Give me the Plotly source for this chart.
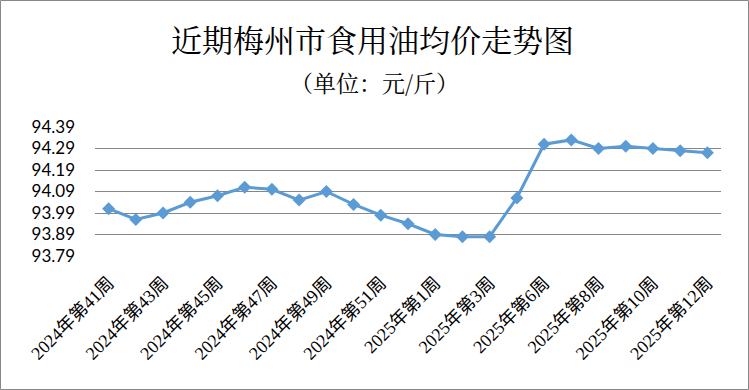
import plotly.graph_objects as go

categories = [
    "2024年第41周", "2024年第42周", "2024年第43周", "2024年第44周", "2024年第45周",
    "2024年第46周", "2024年第47周", "2024年第48周", "2024年第49周", "2024年第50周",
    "2024年第51周", "2024年第52周", "2025年第1周", "2025年第2周", "2025年第3周",
    "2025年第5周", "2025年第6周", "2025年第7周", "2025年第8周", "2025年第9周",
    "2025年第10周", "2025年第11周", "2025年第12周",
]
prices = [
    94.01, 93.96, 93.99, 94.04, 94.07, 94.11, 94.10, 94.05, 94.09, 94.03,
    93.98, 93.94, 93.89, 93.88, 93.88, 94.06, 94.31, 94.33, 94.29, 94.30,
    94.29, 94.28, 94.27,
]
y_ticks = [93.79, 93.89, 93.99, 94.09, 94.19, 94.29, 94.39]
x_ticks = categories[::2]

W, H = 749, 390
L, R, T, B = 95, 28, 127, 134
pw, ph = W - L - R, H - T - B


def px_x(px):
    return (px - L) / pw


def px_y(py):
    return (H - B - py) / ph


fig = go.Figure()
fig.add_trace(go.Scatter(
    x=categories, y=prices, mode="lines+markers",
    line=dict(color="#5B9BD5", width=3),
    marker=dict(symbol="diamond", size=10, color="#5B9BD5"),
    hoverinfo="x+y",
))

cjk_serif = "Noto Serif CJK SC, Noto Sans CJK SC, sans-serif"
fig.update_layout(
    width=W, height=H,
    margin=dict(l=L, r=R, t=T, b=B),
    paper_bgcolor="white", plot_bgcolor="white",
    showlegend=False,
    xaxis=dict(
        type="category", range=[-0.5, len(categories) - 0.5],
        tickmode="array", tickvals=x_ticks, ticktext=x_ticks,
        tickangle=-45, showgrid=False, showline=False, zeroline=False,
        ticks="", ticklabelstandoff=12,
        tickfont=dict(family="Liberation Serif, Noto Sans CJK SC", size=18, color="#000"),
    ),
    yaxis=dict(
        range=[93.79, 94.39], tickmode="array", tickvals=y_ticks,
        ticktext=[f"{v:.2f}" for v in y_ticks],
        showgrid=True, gridcolor="#878787", gridwidth=1,
        zeroline=False, showline=False, ticks="", ticklabelstandoff=19,
        tickfont=dict(family="Lato, sans-serif", size=17, color="#000"),
    ),
    annotations=[
        dict(text="近期梅州市食用油均价走势图", xref="paper", yref="paper",
             x=px_x(372), y=px_y(39), xanchor="center", yanchor="middle",
             showarrow=False, font=dict(family=cjk_serif, size=31, color="#000")),
        dict(text="（单位：元/斤）", xref="paper", yref="paper",
             x=px_x(374), y=px_y(82), xanchor="center", yanchor="middle",
             showarrow=False, font=dict(family=cjk_serif, size=23, color="#000")),
    ],
    shapes=[
        dict(type="rect", xref="paper", yref="paper",
             x0=px_x(0.5), x1=px_x(748.5), y0=px_y(0.5), y1=px_y(389.5),
             line=dict(color="#878787", width=1), fillcolor="rgba(0,0,0,0)",
             layer="below"),
    ],
)

fig.write_html("out.html")
